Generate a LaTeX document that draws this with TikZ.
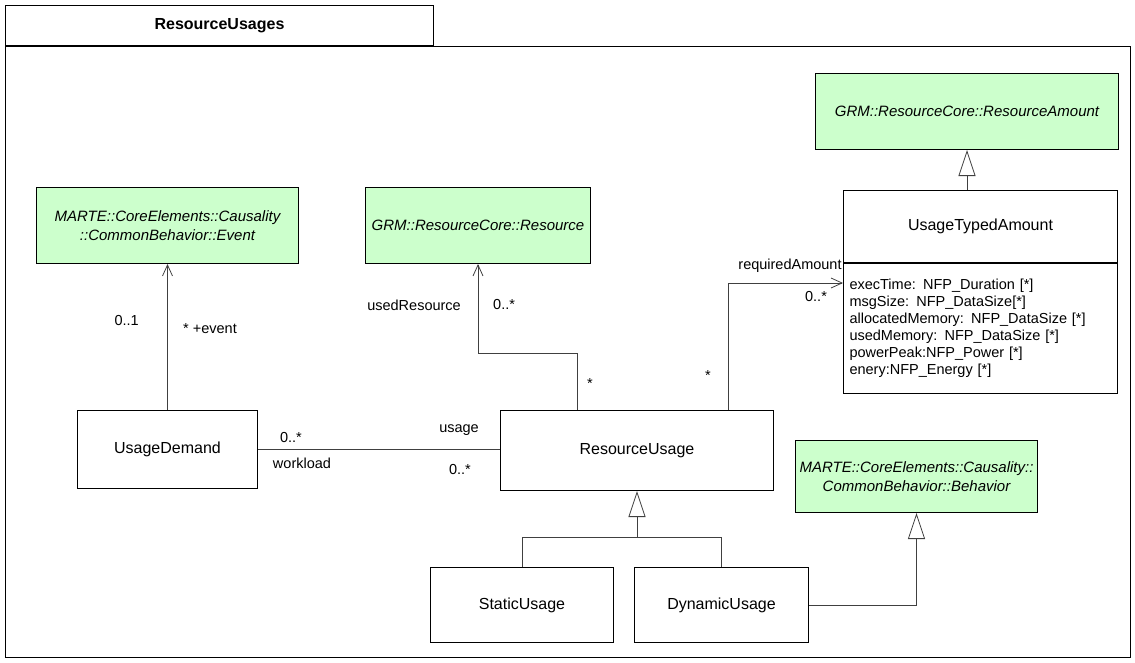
\documentclass[tikz,border=0pt]{standalone}
\usepackage{fontspec}
\setmainfont{Liberation Sans}
\usetikzlibrary{positioning, arrows.meta}
\definecolor{extgreen}{HTML}{CCFFCC}
\definecolor{linkgray}{HTML}{404040}

\begin{document}
\begin{tikzpicture}[
    x=1pt, y=-1pt,
    font=\fontsize{16}{19}\selectfont,
    classbox/.style={
        draw=black,
        line width=1pt,
        fill=white,
        align=center,
        inner sep=0pt,
        anchor=north west
    },
    extclass/.style={classbox, fill=extgreen, font=\fontsize{15}{19}\selectfont\itshape},
    link/.style={draw=linkgray, line width=0.8pt},
    nav/.style={link, -{Straight Barb[length=11pt, width=10pt]}},
    gen/.style={link, -{Triangle[open, length=26pt, width=17pt, fill=white]}},
    role/.style={inner sep=1pt, font=\fontsize{14.5}{16}\selectfont}
]
\useasboundingbox (0,0) rectangle (1135,662);

% package frame
\node[classbox, minimum width=428pt, minimum height=40pt, font=\fontsize{16}{19}\selectfont\bfseries] (tab) at (5,5) {ResourceUsages};
\draw[line width=1pt] (tab.south west) rectangle (1130,657);

% imported classes
\node[extclass, minimum width=262pt, minimum height=76pt] (event) at (36,187) {MARTE::CoreElements::Causality\\::CommonBehavior::Event};
\node[extclass, minimum width=225pt, minimum height=76pt] (resource) at (365,187) {GRM::ResourceCore::Resource};
\node[extclass, minimum width=303pt, minimum height=76pt] (amounttype) at (815,73) {GRM::ResourceCore::ResourceAmount};
\node[extclass, minimum width=242pt, minimum height=72pt] (behavior) at (795,440) {MARTE::CoreElements::Causality::\\CommonBehavior::Behavior};

% classes of the package
\node[classbox, minimum width=180pt, minimum height=78pt] (demand) at (77,410) {UsageDemand};
\node[classbox, minimum width=273pt, minimum height=80pt] (usage) at (500,410) {ResourceUsage};
\node[classbox, minimum width=183pt, minimum height=75pt] (static) at (430,567) {StaticUsage};
\node[classbox, minimum width=174pt, minimum height=75pt] (dynamic) at (634,567) {DynamicUsage};
\node[classbox, minimum width=274pt, minimum height=72pt] (amount) at (843,190) {UsageTypedAmount};
\node[classbox, below=0pt of amount, anchor=north, text width=262pt, inner xsep=6pt, minimum height=130pt,
      align=left, font=\fontsize{14.5}{17}\selectfont] (amountattr) {execTime: NFP\_Duration [*]\\msgSize: NFP\_DataSize[*]\\allocatedMemory: NFP\_DataSize [*]\\usedMemory: NFP\_DataSize [*]\\powerPeak:NFP\_Power [*]\\enery:NFP\_Energy [*]};

% bends
\coordinate (usedBend) at (577,353);
\coordinate (reqBend) at (728,283);
\coordinate (genJoin) at (637,537);

% associations
\draw[nav] (demand.north) -- (demand.north |- event.south);
\draw[link] (demand.east) -- (demand.east -| usage.west);
\draw[nav] (usage.north -| usedBend) -- (usedBend) -| (resource.south);
\draw[nav] (usage.north -| reqBend) -- (reqBend) -- (reqBend -| amountattr.west);

% generalizations
\draw[gen] (amount.north -| amounttype.south) -- (amounttype.south);
\draw[link] (static.north) |- (usage.south |- genJoin);
\draw[link] (dynamic.north) |- (usage.south |- genJoin);
\draw[gen] (usage.south |- genJoin) -- (usage.south);
\draw[gen] (dynamic.east) -| (behavior.south);

% role names and multiplicities
\node[role, anchor=east] (evLow) at (140,321) {0..1};
\node[role, anchor=west] (evName) at (182,329) {* +event};
\node[role, anchor=east] (resName) at (462,305) {usedResource};
\node[role, anchor=west] (resMult) at (492,305) {0..*};
\node[role, anchor=west] (resUse) at (586,384) {*};
\node[role] (reqName) at (790,266) {requiredAmount};
\node[role] (reqMult) at (816,297) {0..*};
\node[role, anchor=east] (reqUse) at (712,376) {*};
\node[role] (wlMult) at (291,437) {0..*};
\node[role] (wlName) at (302,463) {workload};
\node[role] (useName) at (459,430) {usage};
\node[role] (useMult) at (460,469) {0..*};

\end{tikzpicture}
\end{document}
